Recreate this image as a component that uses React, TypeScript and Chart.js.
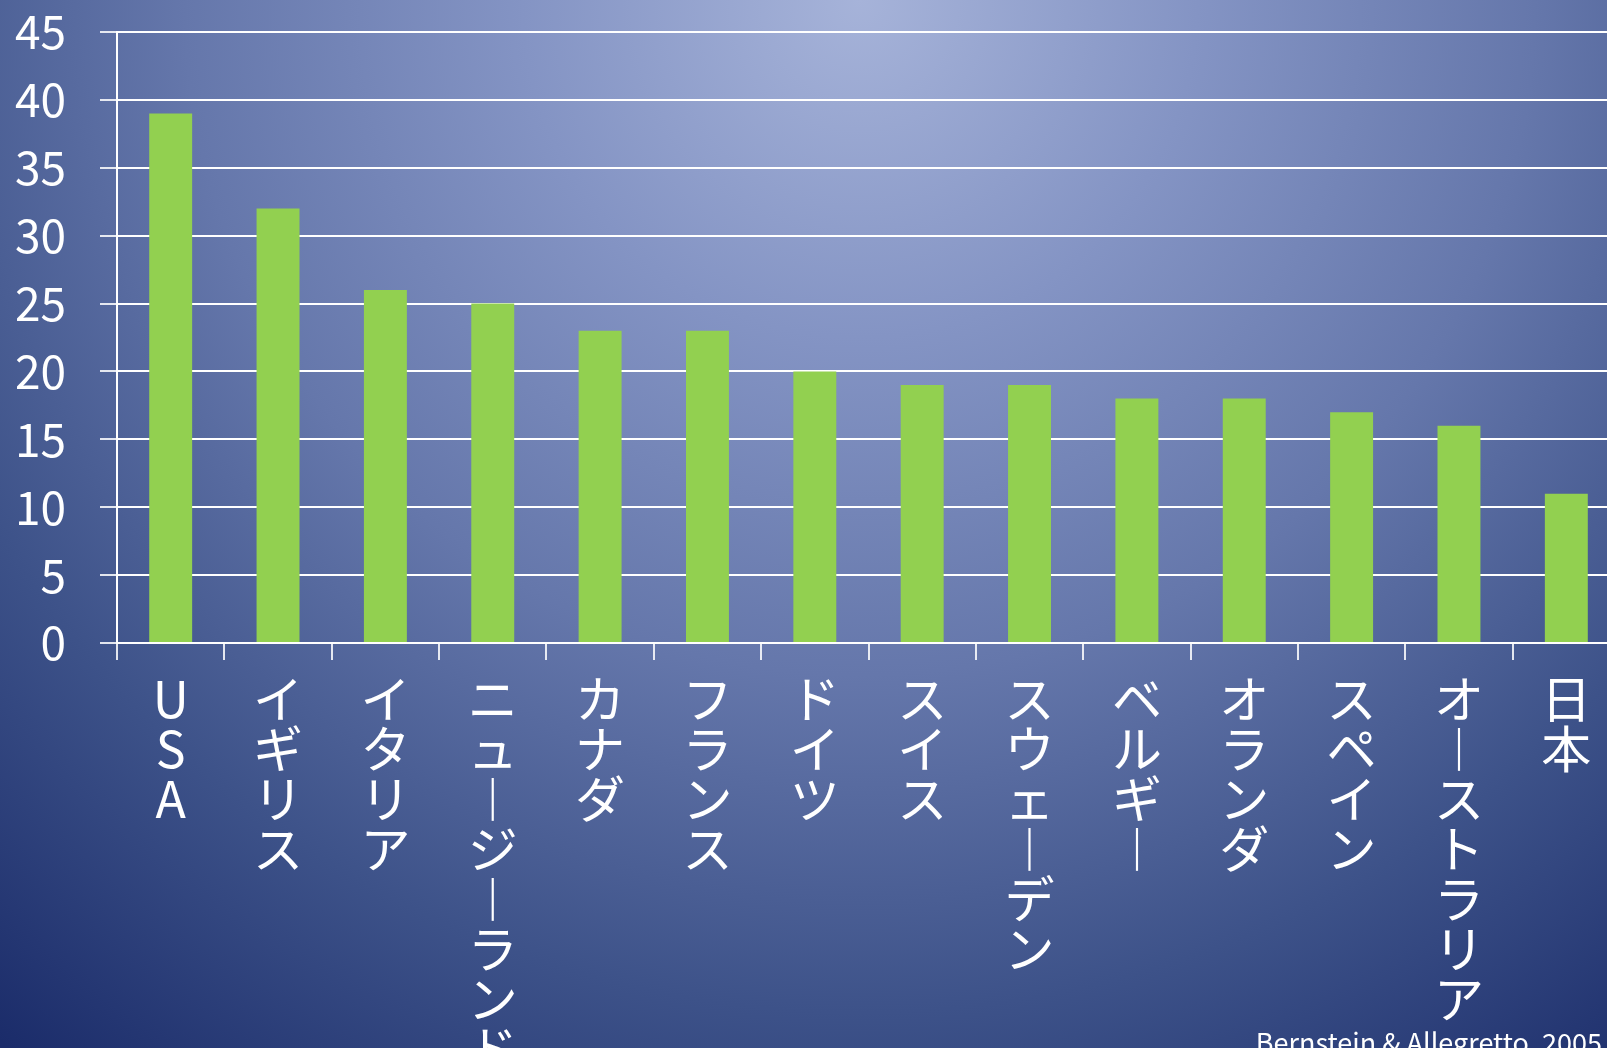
import React, { useEffect, useRef } from 'react';
import { Chart, registerables } from 'chart.js';

Chart.register(...registerables);

const categories = ['USA', 'イギリス', 'イタリア', 'ニュージーランド', 'カナダ', 'フランス', 'ドイツ', 'スイス', 'スウェーデン', 'ベルギー', 'オランダ', 'スペイン', 'オーストラリア', '日本'];
const values = [39, 32, 26, 25, 23, 23, 20, 19, 19, 18, 18, 17, 16, 11];
const yMin = 0;
const yMax = 45;
const yStep = 5;
const sourceNote = 'Bernstein & Allegretto, 2005';

const FONT = "'Noto Sans CJK JP', 'Noto Sans', sans-serif";

// Stack characters vertically (vertical writing); long vowel mark becomes its vertical form.
function toVertical(label: string): string[] {
  return Array.from(label).map((ch) => (ch === 'ー' ? '︱' : ch));
}

export default function App() {
  const canvasRef = useRef<HTMLCanvasElement | null>(null);

  useEffect(() => {
    document.body.style.margin = '0';
    const canvas = canvasRef.current;
    if (!canvas) return;
    const chart = new Chart(canvas, {
      type: 'bar',
      data: {
        labels: categories,
        datasets: [
          {
            data: values,
            backgroundColor: '#92D050',
            borderWidth: 0,
            barPercentage: 0.4,
            categoryPercentage: 1,
          },
        ],
      },
      options: {
        responsive: false,
        animation: false,
        devicePixelRatio: 1,
        layout: { padding: { top: 32, left: 0, right: 0, bottom: 0 } },
        plugins: {
          legend: { display: false },
          tooltip: { enabled: false },
          title: { display: false },
        },
        scales: {
          x: {
            type: 'category',
            offset: true,
            grid: {
              display: true,
              offset: true,
              drawOnChartArea: false,
              drawTicks: true,
              tickLength: 17,
              color: 'rgba(255,255,255,0.85)',
              lineWidth: 2,
            },
            border: { display: true, color: '#ffffff', width: 2 },
            ticks: {
              color: '#ffffff',
              font: { family: FONT, size: 50, lineHeight: 1.0 },
              padding: 14,
              maxRotation: 0,
              minRotation: 0,
              autoSkip: false,
              callback: (_v: any, i: number) => toVertical(categories[i]),
            },
            afterFit: (s: any) => {
              s.height = 405;
              s.paddingLeft = 0;
              s.paddingRight = 0;
            },
          },
          y: {
            min: yMin,
            max: yMax,
            ticks: {
              stepSize: yStep,
              color: '#ffffff',
              font: { family: FONT, size: 46 },
              padding: 34,
            },
            grid: {
              color: '#ffffff',
              lineWidth: 2,
              tickLength: 17,
              drawTicks: true,
              tickColor: 'rgba(255,255,255,0.85)',
            },
            border: { display: true, color: '#ffffff', width: 2 },
            afterFit: (s: any) => {
              s.width = 117;
              s.paddingTop = 0;
              s.paddingBottom = 0;
            },
          },
        },
      },
    });
    return () => chart.destroy();
  }, []);

  return (
    <div
      style={{
        position: 'fixed',
        left: 0,
        top: 0,
        width: 1607,
        height: 1048,
        overflow: 'hidden',
        background:
          'radial-gradient(circle 1350px at 860px 0px, #a6b3d9 0%, #8494c4 25%, #6577ab 50%, #3d5289 75%, #1b2c6a 100%)',
      }}
    >
      <canvas ref={canvasRef} width={1620} height={1048} style={{ display: 'block' }} />
      <div
        style={{
          position: 'absolute',
          right: 5,
          top: 1028,
          fontFamily: FONT,
          fontSize: 27,
          lineHeight: '27px',
          color: '#ffffff',
          whiteSpace: 'nowrap',
        }}
      >
        {sourceNote}
      </div>
    </div>
  );
}
